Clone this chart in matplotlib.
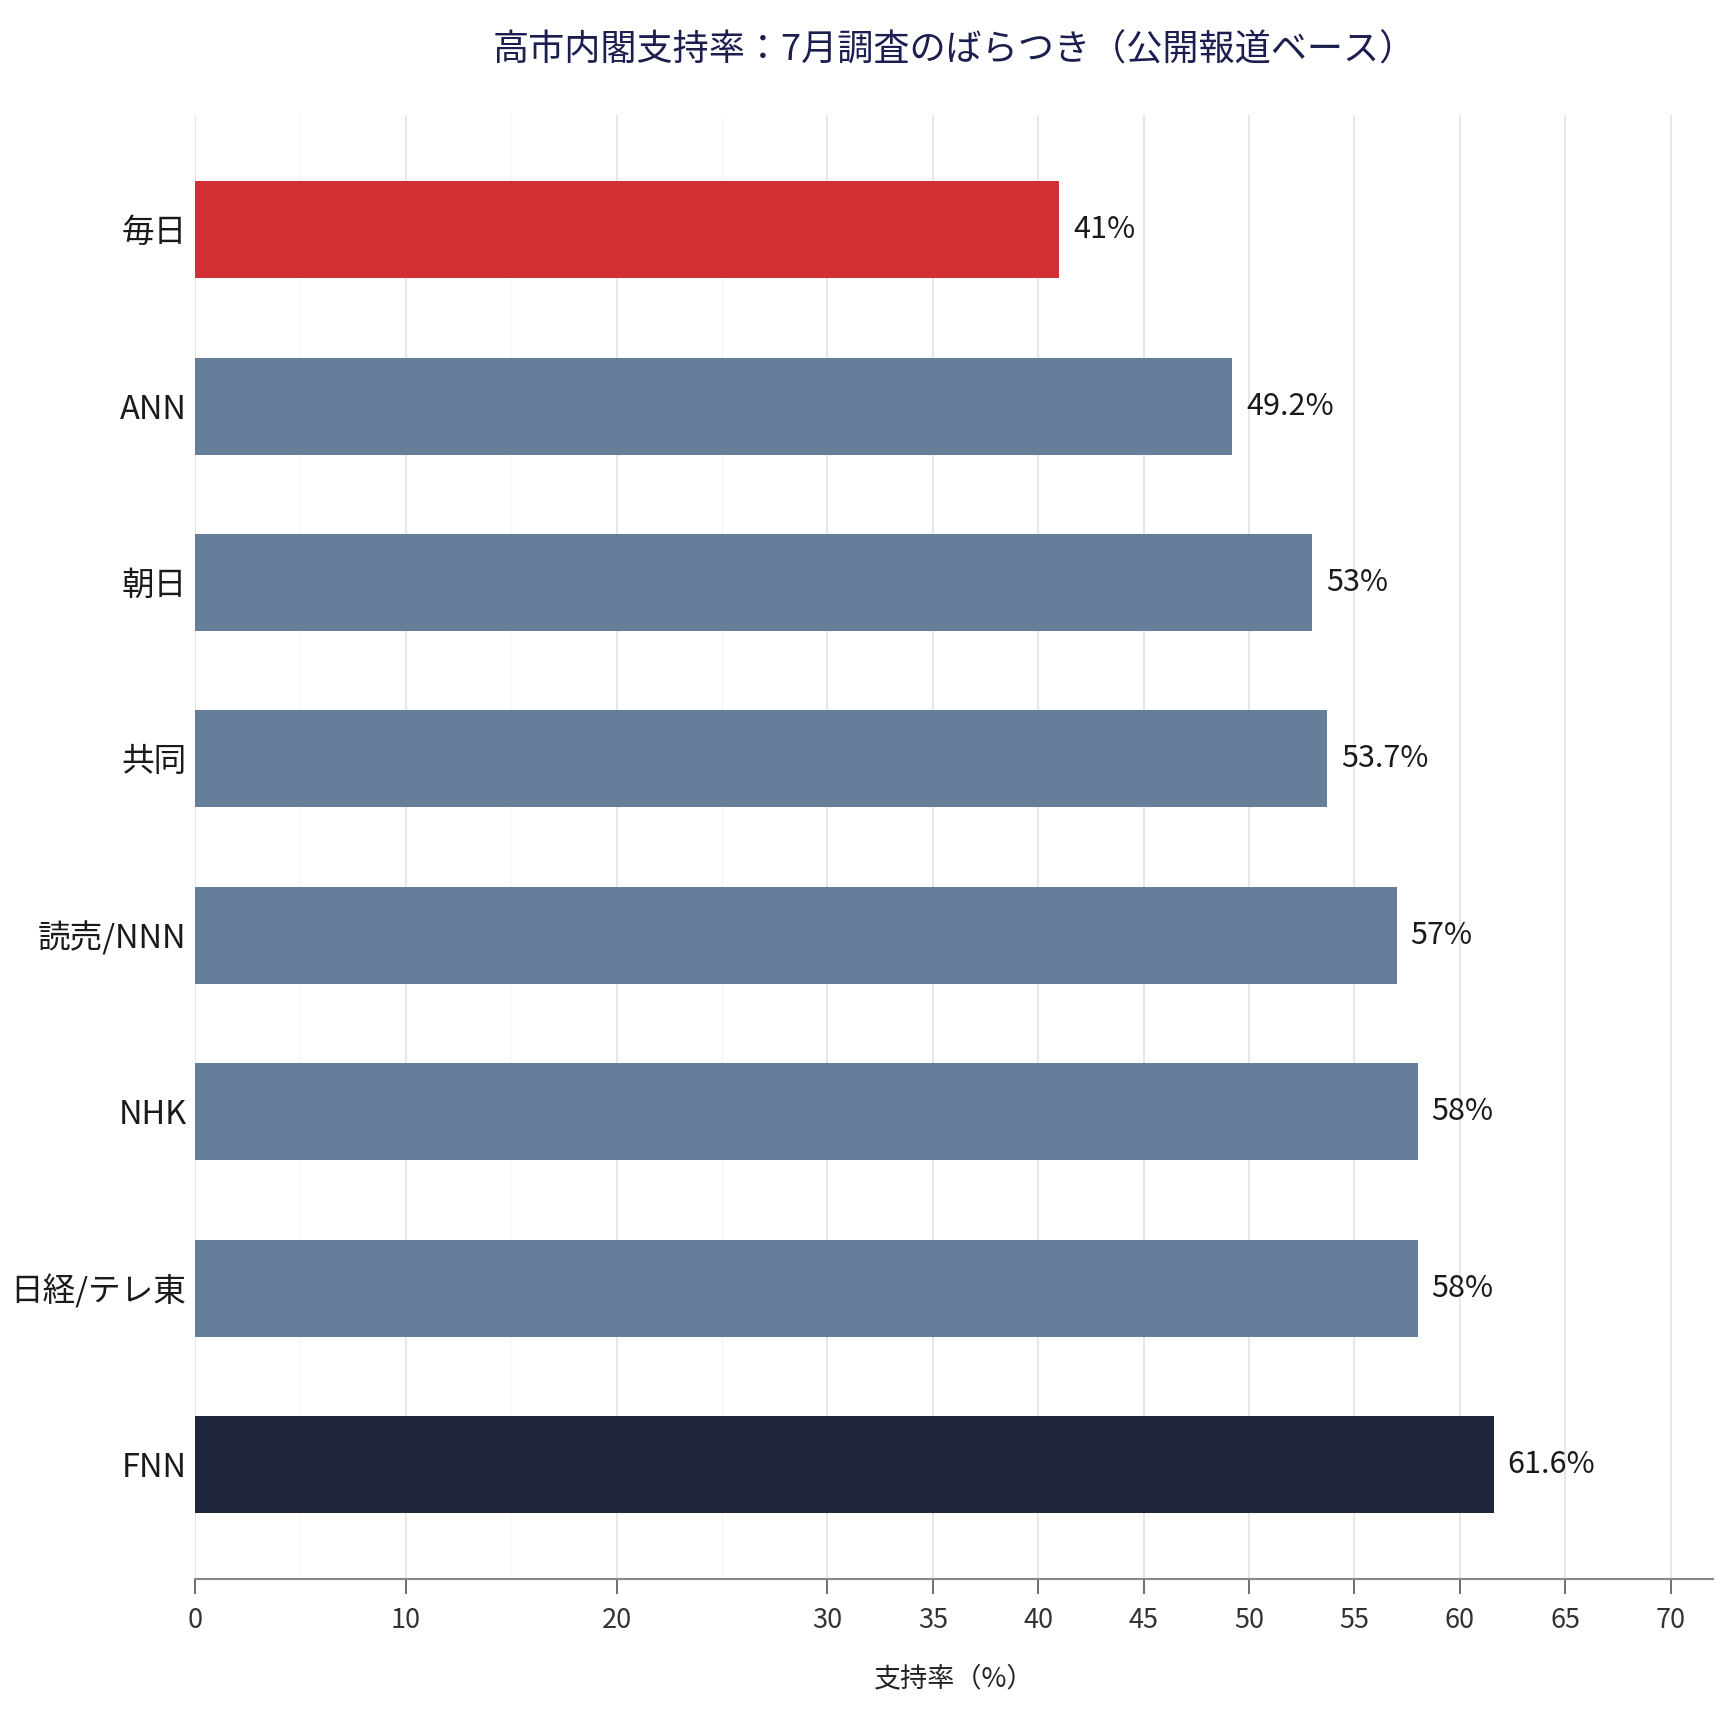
import matplotlib
matplotlib.use("Agg")
import matplotlib.pyplot as plt
from matplotlib.ticker import FixedLocator

plt.rcParams['font.family'] = ['Noto Sans CJK JP', 'DejaVu Sans']

categories = ["毎日", "ANN", "朝日", "共同", "読売/NNN", "NHK", "日経/テレ東", "FNN"]
values = [41, 49.2, 53, 53.7, 57, 58, 58, 61.6]
value_labels = ["41%", "49.2%", "53%", "53.7%", "57%", "58%", "58%", "61.6%"]
xticks = [0, 10, 20, 30, 35, 40, 45, 50, 55, 60, 65, 70]
minor_ticks = [5, 15, 25]

title = "高市内閣支持率：7月調査のばらつき（公開報道ベース）"
xlabel = "支持率（%）"

RED = "#D02F33"
SLATE = "#657F9A"
NAVY = "#1F263C"
colors = [RED] + [SLATE] * 6 + [NAVY]

fig = plt.figure(figsize=(17.28, 17.28), dpi=100)
ax = fig.add_axes([0.1128, 0.0862, 0.9912 - 0.1128, 0.9334 - 0.0862])

y = list(range(len(categories)))
ax.barh(y, values, height=0.55, color=colors, zorder=3)

ax.set_ylim(len(categories) - 1 + 0.65, -0.65)
ax.set_xlim(0, 72)

ax.set_yticks(y)
ax.set_yticklabels(categories, fontsize=23.5, color="#1a1a1a")
ax.tick_params(axis='y', length=0, pad=6)

ax.xaxis.set_major_locator(FixedLocator(xticks))
ax.xaxis.set_minor_locator(FixedLocator(minor_ticks))
ax.set_xticklabels([str(t) for t in xticks])
ax.tick_params(axis='x', which='major', labelsize=19.5, length=11, width=1.2,
               color="#555555", labelcolor="#333333", pad=9)
ax.tick_params(axis='x', which='minor', length=0)

ax.grid(axis='x', which='major', color="#E3E3E3", linewidth=1.2, zorder=0)
ax.grid(axis='x', which='minor', color="#F6F6F6", linewidth=1.0, zorder=0)
ax.grid(axis='y', visible=False)

for s in ['top', 'right', 'left']:
    ax.spines[s].set_visible(False)
ax.spines['bottom'].set_color("#888888")
ax.spines['bottom'].set_linewidth(1.5)

for yi, v, lab in zip(y, values, value_labels):
    ax.annotate(lab, xy=(v, yi), xytext=(10, 0), textcoords='offset points',
                ha='left', va='center', fontsize=22, color="#1a1a1a")

ax.set_xlabel(xlabel, fontsize=19.5, color="#222222", labelpad=23)

fig.text(0.552, 0.971, title, ha='center', va='center', fontsize=26, color="#1B1E4E")

fig.savefig("out.png", dpi=100, facecolor="white")
